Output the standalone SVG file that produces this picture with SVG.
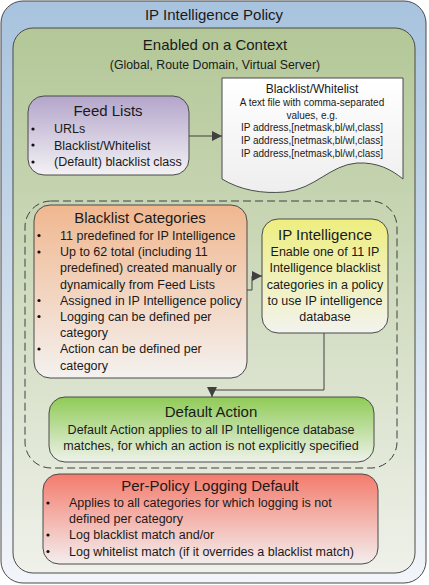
<svg xmlns="http://www.w3.org/2000/svg" width="429" height="585" viewBox="0 0 429 585">
<defs>
<linearGradient id="gOuter" x1="0" y1="0" x2="0" y2="1"><stop offset="0" stop-color="#a8c3de"/><stop offset="1" stop-color="#f2f5f9"/></linearGradient>
<linearGradient id="gCtx" x1="0" y1="0" x2="0" y2="1"><stop offset="0" stop-color="#b3c797"/><stop offset="1" stop-color="#eff1ea"/></linearGradient>
<linearGradient id="gFeed" x1="0" y1="0" x2="0" y2="1"><stop offset="0" stop-color="#b4a5cb"/><stop offset="1" stop-color="#f3f2f4"/></linearGradient>
<linearGradient id="gBl" x1="0" y1="0" x2="0" y2="1"><stop offset="0" stop-color="#f0b78f"/><stop offset="1" stop-color="#f4f1ef"/></linearGradient>
<linearGradient id="gIp" x1="0" y1="0" x2="0" y2="1"><stop offset="0" stop-color="#eeee80"/><stop offset="1" stop-color="#f2f3ee"/></linearGradient>
<linearGradient id="gDa" x1="0" y1="0" x2="0" y2="1"><stop offset="0" stop-color="#8fcb56"/><stop offset="1" stop-color="#eef2ea"/></linearGradient>
<linearGradient id="gLog" x1="0" y1="0" x2="0" y2="1"><stop offset="0" stop-color="#f47b6c"/><stop offset="1" stop-color="#f3eeee"/></linearGradient>
<linearGradient id="gDoc" x1="0" y1="0" x2="0" y2="1"><stop offset="0" stop-color="#ffffff"/><stop offset="1" stop-color="#eeeeee"/></linearGradient>
<marker id="arr" viewBox="0 0 10 10" refX="10" refY="5" markerWidth="10" markerHeight="10" markerUnits="userSpaceOnUse" orient="auto"><path d="M0,0 L10,5 L0,10 z" fill="#404040"/></marker>
</defs>
<style>
text{font-family:"Liberation Sans",Arial,sans-serif;fill:#1a1a1a}
.box{stroke:#4a4a4a;stroke-width:1}
.t15{font-size:15px;text-anchor:middle}
.b{font-size:12.5px}
.c{font-size:12.5px;text-anchor:middle}
.d{font-size:10px;text-anchor:middle}
.dot{fill:#111}
.con{fill:none;stroke:#404040;stroke-width:1}
</style>
<g id="policy">
<rect class="box" x="1" y="1" width="425" height="582" rx="22" fill="url(#gOuter)"/>
<text class="t15" x="214" y="20">IP Intelligence Policy</text>
</g>
<g id="context">
<rect class="box" x="13" y="28" width="402" height="545" rx="20" fill="url(#gCtx)"/>
<text class="t15" x="215" y="50">Enabled on a Context</text>
<text x="215" y="69" style="font-size:12.3px;text-anchor:middle">(Global, Route Domain, Virtual Server)</text>
</g>
<g id="group" fill="none" stroke="#404040" stroke-width="1" stroke-dasharray="8,4">
<rect x="25" y="201" width="372" height="267" rx="26"/>
</g>
<g id="doc">
<path class="box" d="M222,78 H403 V179 C392,170 378,162 357,163 C330,165 315,189 285,192 C262,194 240,190 222,179 Z" fill="url(#gDoc)"/>
<text x="312" y="93" style="font-size:12px;text-anchor:middle">Blacklist/Whitelist</text>
<text class="d" x="312" y="106">A text file with comma-separated</text>
<text class="d" x="312" y="119">values, e.g.</text>
<text class="d" x="312" y="131">IP address,[netmask,bl/wl,class]</text>
<text class="d" x="312" y="144">IP address,[netmask,bl/wl,class]</text>
<text class="d" x="312" y="157">IP address,[netmask,bl/wl,class]</text>
</g>
<g id="feed">
<rect class="box" x="28" y="96" width="161" height="79" rx="16" fill="url(#gFeed)"/>
<text class="t15" x="108" y="116">Feed Lists</text>
<circle class="dot" cx="33" cy="129" r="1.6"/>
<circle class="dot" cx="33" cy="145" r="1.6"/>
<circle class="dot" cx="33" cy="162" r="1.6"/>
<text class="b" x="54" y="133">URLs</text>
<text class="b" x="54" y="150">Blacklist/Whitelist</text>
<text class="b" x="54" y="166">(Default) blacklist class</text>
</g>
<g id="blacklist">
<rect class="box" x="34" y="205" width="213" height="173" rx="16" fill="url(#gBl)"/>
<text class="t15" x="140" y="223">Blacklist Categories</text>
<circle class="dot" cx="39" cy="235.5" r="1.6"/>
<circle class="dot" cx="39" cy="252" r="1.6"/>
<circle class="dot" cx="39" cy="300.5" r="1.6"/>
<circle class="dot" cx="39" cy="316.5" r="1.6"/>
<circle class="dot" cx="39" cy="349" r="1.6"/>
<text class="b" x="60" y="239.5">11 predefined for IP Intelligence</text>
<text class="b" x="60" y="256">Up to 62 total (including 11</text>
<text class="b" x="60" y="272">predefined) created manually or</text>
<text class="b" x="60" y="288.5">dynamically from Feed Lists</text>
<text class="b" x="60" y="304.5">Assigned in IP Intelligence policy</text>
<text class="b" x="60" y="320.5">Logging can be defined per</text>
<text class="b" x="60" y="337">category</text>
<text class="b" x="60" y="353">Action can be defined per</text>
<text class="b" x="60" y="369.5">category</text>
</g>
<g id="ipint">
<rect class="box" x="262" y="219" width="126" height="114" rx="16" fill="url(#gIp)"/>
<text class="t15" x="325" y="240">IP Intelligence</text>
<text class="c" x="325" y="256">Enable one of 11 IP</text>
<text class="c" x="325" y="272">Intelligence blacklist</text>
<text class="c" x="325" y="288.5">categories in a policy</text>
<text class="c" x="325" y="304.5">to use IP intelligence</text>
<text class="c" x="325" y="320.5">database</text>
</g>
<g id="default">
<rect class="box" x="49" y="397" width="325" height="65" rx="16" fill="url(#gDa)"/>
<text class="t15" x="211" y="417">Default Action</text>
<text class="c" x="211" y="434">Default Action applies to all IP Intelligence database</text>
<text class="c" x="211" y="450">matches, for which an action is not explicitly specified</text>
</g>
<g id="logging">
<rect class="box" x="43" y="474" width="335" height="90" rx="16" fill="url(#gLog)"/>
<text class="t15" x="210" y="491">Per-Policy Logging Default</text>
<circle class="dot" cx="48" cy="503" r="1.6"/>
<circle class="dot" cx="48" cy="535" r="1.6"/>
<circle class="dot" cx="48" cy="551.5" r="1.6"/>
<text class="b" x="69" y="507">Applies to all categories for which logging is not</text>
<text class="b" x="69" y="523">defined per category</text>
<text class="b" x="69" y="539">Log blacklist match and/or</text>
<text class="b" x="69" y="555.5">Log whitelist match (if it overrides a blacklist match)</text>
</g>
<g id="connectors">
<path class="con" d="M189,136 H222" marker-end="url(#arr)"/>
<path class="con" d="M247,290 H252 V276 H262" marker-end="url(#arr)"/>
<path class="con" d="M324,333 V390 H212 V397" marker-end="url(#arr)"/>
</g>
</svg>
